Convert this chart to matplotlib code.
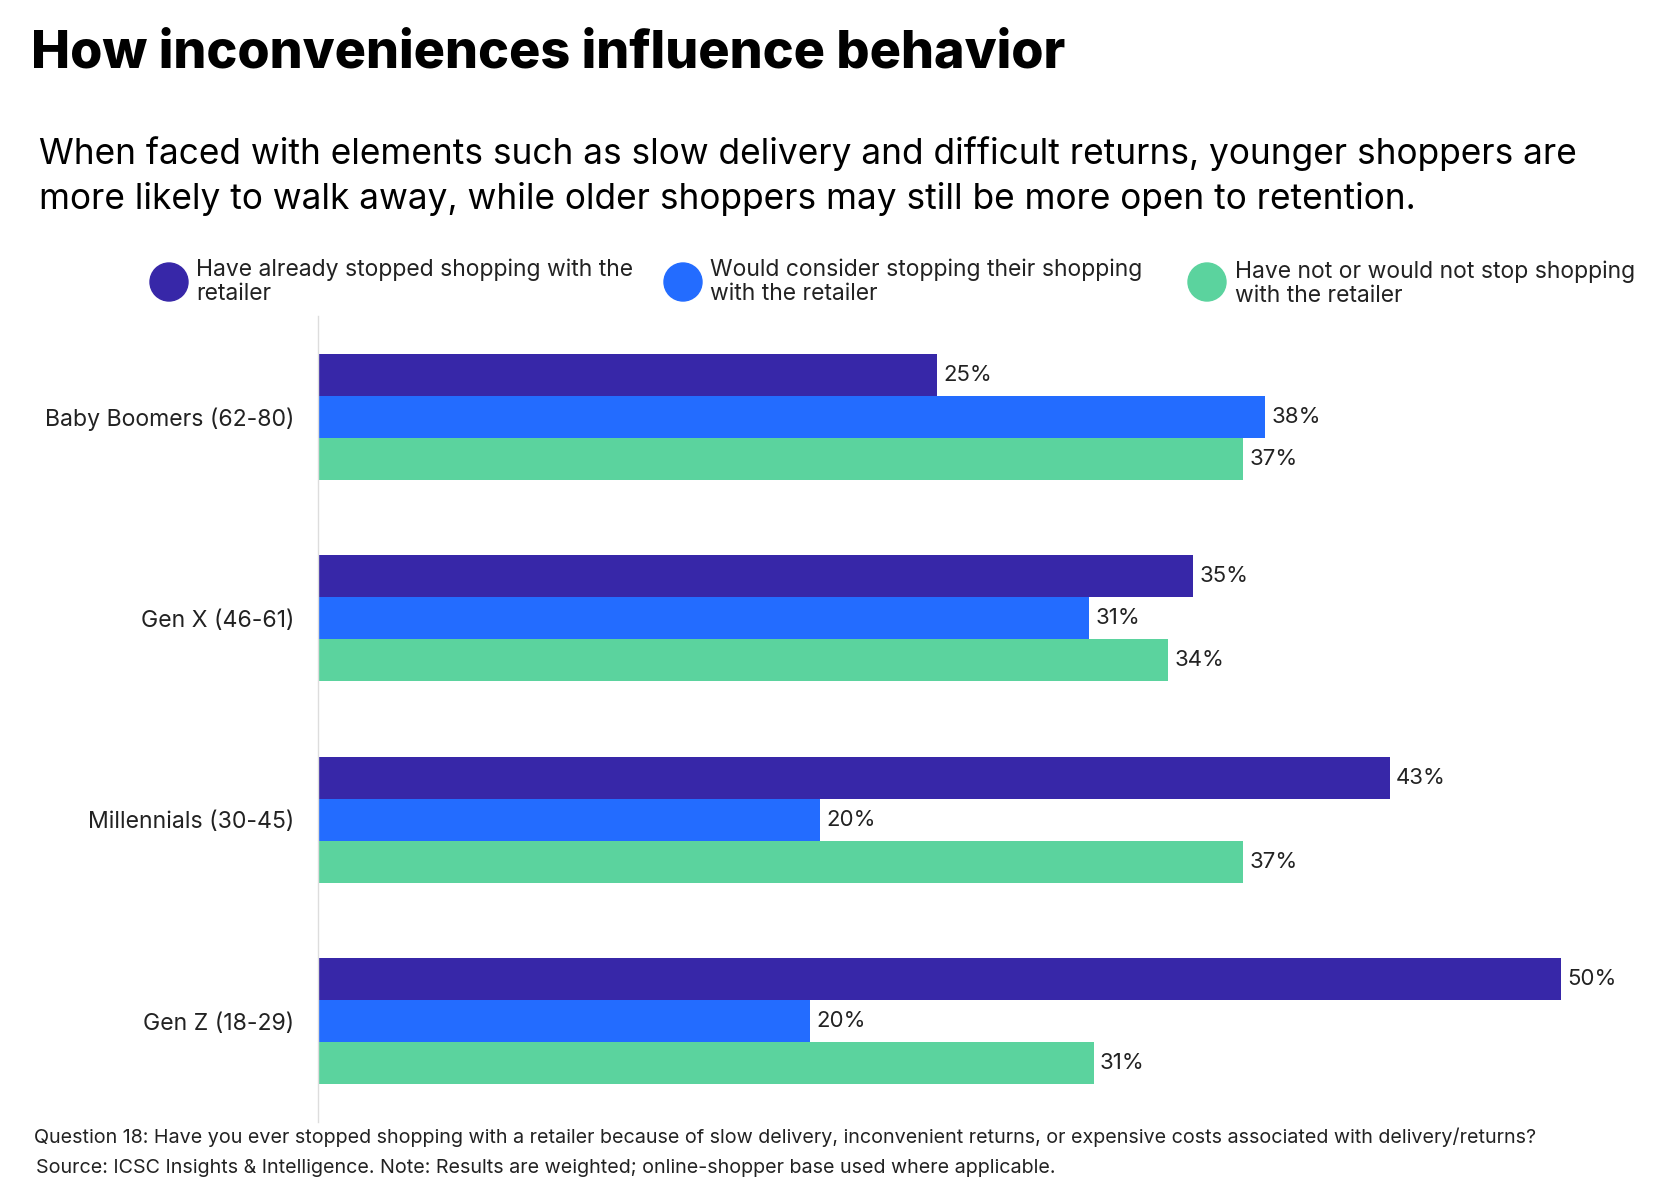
import matplotlib
matplotlib.use("Agg")
import matplotlib.pyplot as plt
import numpy as np

plt.rcParams["font.family"] = ["Inter", "DejaVu Sans"]

# data
groups = ["Baby Boomers (62-80)", "Gen X (46-61)", "Millennials (30-45)", "Gen Z (18-29)"]
series_names = [
    ["Have already stopped shopping with the", "retailer"],
    ["Would consider stopping their shopping", "with the retailer"],
    ["Have not or would not stop shopping", "with the retailer"],
]
stopped = [24.9, 35.2, 43.1, 50.0]
would_consider = [38.1, 31.0, 20.2, 19.8]
would_not = [37.2, 34.2, 37.2, 31.2]
colors = ["#3727A8", "#236CFF", "#5BD39E"]

title = "How inconveniences influence behavior"
subtitle = ["When faced with elements such as slow delivery and difficult returns, younger shoppers are",
            "more likely to walk away, while older shoppers may still be more open to retention."]
footnotes = ["Question 18: Have you ever stopped shopping with a retailer because of slow delivery, "
             "inconvenient returns, or expensive costs associated with delivery/returns?",
             "Source: ICSC Insights & Intelligence. Note: Results are weighted; "
             "online-shopper base used where applicable."]

W, H = 1679, 1189
fig = plt.figure(figsize=(W / 100, H / 100), dpi=100)


def fx(px):
    return px / W


def fy(py):
    return 1 - py / H


ax = fig.add_axes([fx(318), fy(1122), fx(1611 - 318), (1122 - 316) / H])

y = np.arange(len(groups))
h = 0.209
for k, (vals, c) in enumerate(zip([stopped, would_consider, would_not], colors)):
    pos = y + (k - 1) * h
    ax.barh(pos, vals, height=h, color=c, linewidth=0)
    for p, v in zip(pos, vals):
        ax.annotate(f"{v:.0f}%", (v, p), xytext=(4.5, 0), textcoords="offset points",
                    va="center", ha="left", fontsize=16, color="#222222")

ax.set_xlim(0, 52)
ax.set_ylim(len(groups) - 0.5, -0.5)
ax.set_yticks(y)
ax.set_yticklabels(groups, fontsize=16.6, color="#222222")
ax.tick_params(axis="y", length=0, pad=17)
ax.set_xticks([])
for s in ["top", "right", "bottom"]:
    ax.spines[s].set_visible(False)
ax.spines["left"].set_color("#dddddd")
ax.spines["left"].set_linewidth(1)

fig.text(fx(31), fy(68), title, fontsize=37.5, fontweight="heavy", color="black",
         ha="left", va="baseline")
for i, line in enumerate(subtitle):
    fig.text(fx(39), fy(164 + 45 * i), line, fontsize=25.4, color="black",
             ha="left", va="baseline")

legend_x = [169, 683, 1207]
text_x = [196, 710, 1235]
legend_base = [276, 276, 278]
for cx, tx, base, name, c in zip(legend_x, text_x, legend_base, series_names, colors):
    fig.patches.append(matplotlib.patches.Ellipse((fx(cx), fy(282)), 38 / W, 38 / H,
                                                  transform=fig.transFigure, color=c))
    for i, line in enumerate(name):
        fig.text(fx(tx), fy(base + 24 * i), line, fontsize=16.5, color="#222222",
                 ha="left", va="baseline")

for i, line in enumerate(footnotes):
    fig.text(fx(34 + 2 * i), fy(1143 + 30 * i), line, fontsize=14.2, color="#222222",
             ha="left", va="baseline")

fig.savefig("out.png", dpi=100, facecolor="white")
